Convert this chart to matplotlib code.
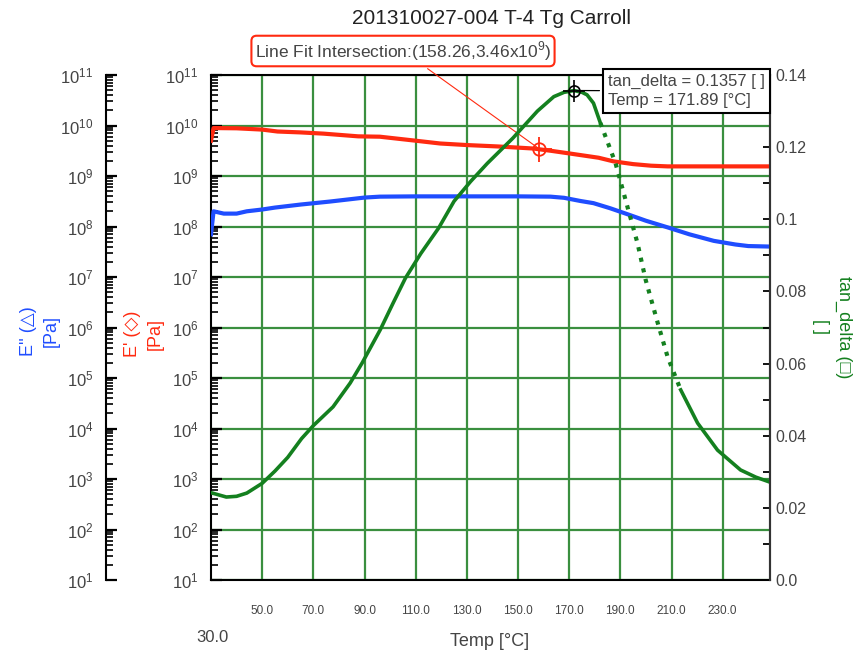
import numpy as np
import matplotlib
matplotlib.use("Agg")
import matplotlib.pyplot as plt
from matplotlib.ticker import FixedLocator, FixedFormatter, LogLocator

plt.rcParams['font.family'] = ['Liberation Sans', 'DejaVu Sans']
plt.rcParams['mathtext.fontset'] = 'custom'
plt.rcParams['mathtext.rm'] = 'Liberation Sans'

### data
# storage modulus E' (red)
e1_temp = [30, 31, 40, 50, 56, 65, 74, 87.5, 96, 110, 119.6, 130, 142, 156, 163,
           170, 181.5, 187.3, 195, 202, 208.5, 220, 235, 249]
e1 = [5.0e9, 8.9e9, 8.8e9, 8.3e9, 7.6e9, 7.3e9, 6.9e9, 6.1e9, 6.0e9, 5.0e9, 4.4e9,
      4.1e9, 3.85e9, 3.5e9, 3.15e9, 2.8e9, 2.3e9, 1.95e9, 1.72e9, 1.6e9, 1.55e9,
      1.55e9, 1.55e9, 1.55e9]

# loss modulus E'' (blue)
e2_temp = [30, 31, 35, 40, 44, 50, 55, 65, 76.5, 90, 96, 110, 130, 150, 162.7, 168,
           174.4, 179.5, 186, 192.8, 200, 208.5, 217, 226.5, 235, 240, 249]
e2 = [7e7, 2.0e8, 1.8e8, 1.8e8, 2.0e8, 2.17e8, 2.37e8, 2.72e8, 3.12e8, 3.74e8, 3.9e8,
      3.95e8, 3.95e8, 3.95e8, 3.9e8, 3.7e8, 3.2e8, 2.9e8, 2.3e8, 1.75e8, 1.3e8,
      9.6e7, 7e7, 5.2e7, 4.4e7, 4.1e7, 4.0e7]

# tan delta (green)
tan_temp = [30.5, 33, 36, 40, 44, 50, 55, 60, 65.4, 70, 77.7, 84.4, 89.1, 96.1, 101.2,
            106, 112, 119, 125, 131.5, 138, 143, 148, 157.6, 164, 168, 171.89, 175, 177,
            179.5, 182.2, 188.1, 192.8, 196.7, 199.9, 204.6, 208.5, 213.6, 220.2, 228,
            237, 243, 249]
tan_delta = [0.0241, 0.0236, 0.0230, 0.0232, 0.0241, 0.0268, 0.0302, 0.0340, 0.0392,
             0.0428, 0.048, 0.0546, 0.0602, 0.0693, 0.0768, 0.0837, 0.0905, 0.0976,
             0.1050, 0.1105, 0.1155, 0.119, 0.1225, 0.130, 0.134, 0.1352, 0.1357, 0.1352,
             0.1345, 0.1322, 0.1267, 0.1156, 0.1034, 0.0934, 0.0832, 0.0713, 0.0618,
             0.0527, 0.0435, 0.036, 0.0305, 0.0285, 0.027]

x_ticks = [50, 70, 90, 110, 130, 150, 170, 190, 210, 230]
x_labels = ["50.0", "70.0", "90.0", "110.0", "130.0", "150.0", "170.0", "190.0", "210.0", "230.0"]
tan_ticks = [0.0, 0.02, 0.04, 0.06, 0.08, 0.10, 0.12, 0.14]
tan_labels = ["0.0", "0.02", "0.04", "0.06", "0.08", "0.1", "0.12", "0.14"]

fit_point = (158.26, 3.46e9)
peak_point = (171.89, 0.1357)

RED = "#ff2a10"
BLUE = "#1f4dff"
GREEN = "#14801f"
GRID = "#3a8f3f"
TXT = "#444444"

fig = plt.figure(figsize=(8.6, 6.53), dpi=100)
ax = fig.add_axes([211/860, 1-580/653, 559/860, 505/653])
ax.set_xlim(30, 248.5)
ax.set_yscale('log')
ax.set_ylim(10, 1e11)
ax.set_xticks(x_ticks)
ax.set_xticklabels(x_labels)
ax.yaxis.set_major_locator(LogLocator(base=10, numticks=20))
ax.yaxis.set_minor_locator(LogLocator(base=10, subs=np.arange(2, 10), numticks=20))
ax.grid(True, which='major', color=GRID, lw=1.6)
ax.tick_params(axis='x', length=0, labelsize=8.5, pad=18, labelcolor=TXT)
ax.tick_params(axis='y', which='major', direction='in', length=8, width=1.6, labelsize=12, labelcolor=TXT, pad=9)
ax.tick_params(axis='y', which='minor', direction='in', length=5, width=1.2)
for s in ['top', 'bottom', 'left', 'right']:
    ax.spines[s].set_linewidth(1.5)
ax.spines['right'].set_color('#333333')

ax.plot(e1_temp, e1, color=RED, lw=3, zorder=3)

# outer left axis for E''
ax2 = ax.twinx()
ax2.set_yscale('log')
ax2.set_ylim(10, 1e11)
ax2.spines['left'].set_position(('axes', (106-211)/559))
ax2.spines['left'].set_visible(True)
ax2.spines['left'].set_linewidth(1.5)
for s in ['right', 'top', 'bottom']:
    ax2.spines[s].set_visible(False)
ax2.yaxis.tick_left()
ax2.yaxis.set_major_locator(LogLocator(base=10, numticks=20))
ax2.yaxis.set_minor_locator(LogLocator(base=10, subs=np.arange(2, 10), numticks=20))
ax2.tick_params(axis='y', which='major', direction='in', length=8, width=1.6, labelsize=12, labelcolor=TXT, pad=9)
ax2.tick_params(axis='y', which='minor', direction='in', length=5, width=1.2)
ax2.plot(e2_temp, e2, color=BLUE, lw=3)

# right axis for tan delta
ax3 = ax.twinx()
ax3.set_ylim(0, 0.14)
ax3.yaxis.set_major_locator(FixedLocator(tan_ticks))
ax3.yaxis.set_major_formatter(FixedFormatter(tan_labels))
ax3.yaxis.set_minor_locator(FixedLocator(np.arange(0.01, 0.14, 0.02)))
ax3.tick_params(axis='y', which='both', direction='in', length=5, width=1.3, labelsize=11.5, labelcolor=TXT, pad=4)
ax3.spines['right'].set_linewidth(1.5)
ax3.spines['right'].set_color('#333333')
for s in ['left', 'top', 'bottom']:
    ax3.spines[s].set_visible(False)

t = np.array(tan_temp)
d = np.array(tan_delta)
steep = np.where((t >= 182) & (t <= 214))[0]
i0, i1 = steep[0], steep[-1]
ax3.plot(t[:i0+1], d[:i0+1], color=GREEN, lw=2.6)
ax3.plot(t[i0:i1+1], d[i0:i1+1], color=GREEN, lw=3, ls=(0, (1, 1.6)))
ax3.plot(t[i1:], d[i1:], color=GREEN, lw=2.6)

# peak cursor
ax3.plot(*peak_point, marker='o', ms=8, mfc='none', mec='black', mew=1.2)
ax3.plot(*peak_point, marker='+', ms=16, color='black', mew=1.2)
ax3.annotate("tan_delta = 0.1357 [ ]\nTemp = 171.89 [°C]", xy=peak_point,
             xytext=(608, 653-91), textcoords='figure pixels', va='center', ha='left',
             fontsize=12, color=TXT, linespacing=1.35,
             bbox=dict(boxstyle='square,pad=0.3', fc='white', ec='black', lw=1.5),
             arrowprops=dict(arrowstyle='-', color='black', lw=0.9))

# line fit intersection
ax.plot(*fit_point, marker='o', ms=9, mfc='none', mec=RED, mew=1.3, zorder=5)
ax.plot(*fit_point, marker='+', ms=18, color=RED, mew=1.3, zorder=5)
ax.annotate("Line Fit Intersection:(158.26,3.46x10$^9$)", xy=fit_point,
            xytext=(403, 653-51), textcoords='figure pixels', ha='center', va='center',
            fontsize=12.5, color=TXT,
            bbox=dict(boxstyle='round,pad=0.2,rounding_size=0.3', fc='white', ec=RED, lw=1.5),
            arrowprops=dict(arrowstyle='-', color=RED, lw=0.8), zorder=6)

# axis titles
fig.text(40/860, 1-331/653, "E'' (△)\n[Pa]", rotation=90, color=BLUE, fontsize=13,
         ha='center', va='center', multialignment='center', linespacing=1.4)
fig.text(144/860, 1-334/653, "E' (◇)\n[Pa]", rotation=90, color=RED, fontsize=13,
         ha='center', va='center', multialignment='center', linespacing=1.4)
fig.text(832/860, 1-327/653, "tan_delta (□)\n[ ]", rotation=270, color=GREEN, fontsize=13,
         ha='center', va='center', multialignment='center', linespacing=1.4)

fig.text(491/860, 1-18/653, "201310027-004 T-4 Tg Carroll", ha='center', va='center',
         fontsize=15, color='#222222')
fig.text(490/860, 1-641/653, "Temp [°C]", ha='center', va='center', fontsize=13, color=TXT)
fig.text(212/860, 1-637/653, "30.0", ha='center', va='center', fontsize=12, color=TXT)

plt.savefig("out.png", dpi=100)
